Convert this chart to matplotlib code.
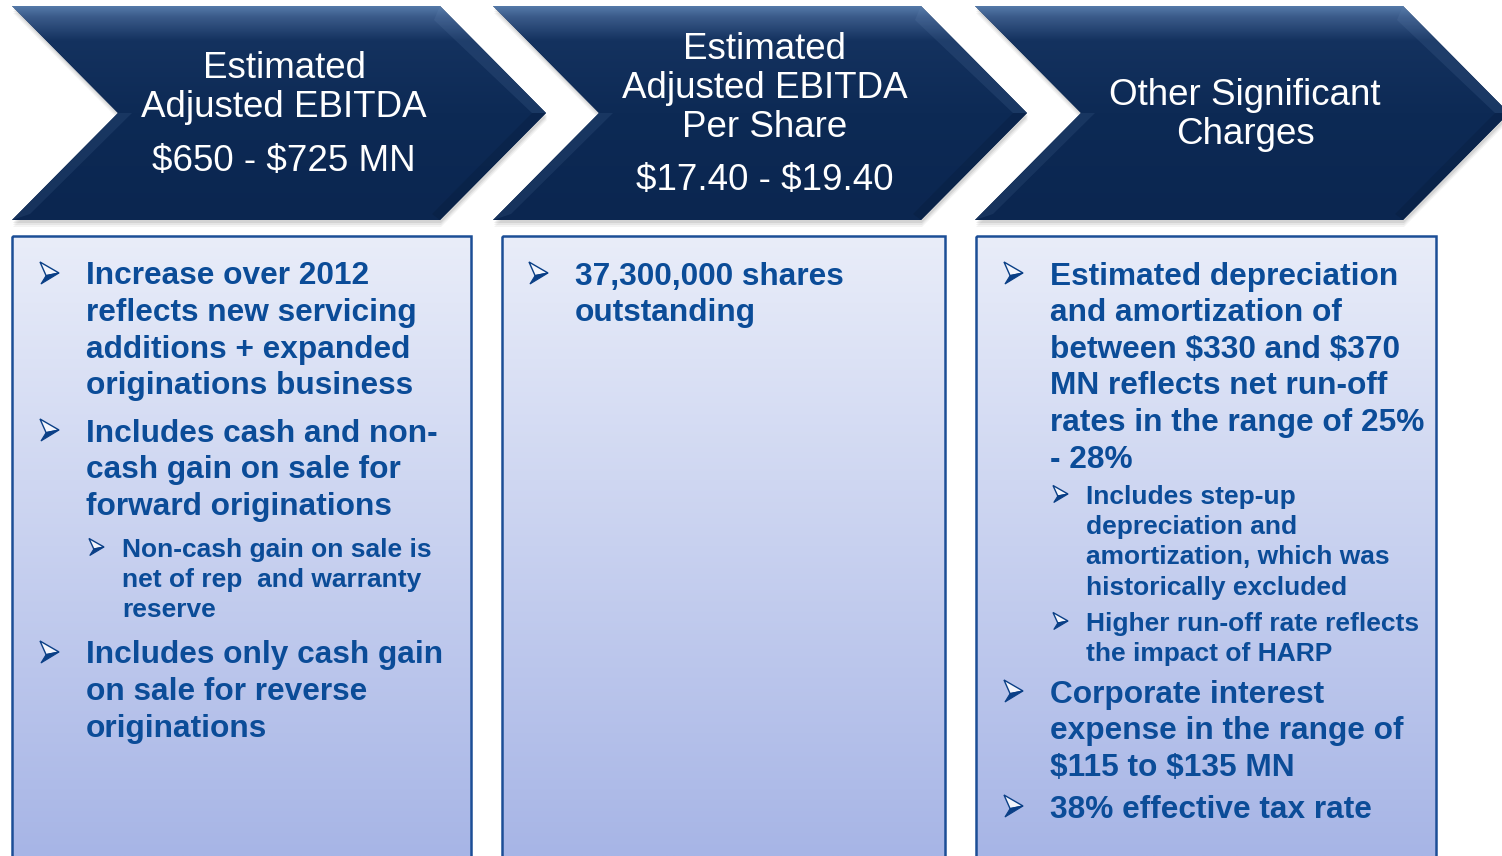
"""
Guidance slide: three navy chevron headers above gradient-filled bullet boxes.
Rendered in pixel coordinates (1502 x 856) on a single frameless axes.
"""
import matplotlib
matplotlib.use("Agg")
import matplotlib.pyplot as plt
import numpy as np
from matplotlib.colors import to_rgb
from matplotlib.patches import Polygon, Rectangle

# ---------------------------------------------------------------------------
# Content
# ---------------------------------------------------------------------------
HEADER_TITLES = [
    ["Estimated", "Adjusted EBITDA"],
    ["Estimated", "Adjusted EBITDA", "Per Share"],
    ["Other Significant", "Charges"],
]
HEADER_VALUES = ["$650 - $725 MN", "$17.40 - $19.40", None]

# (level, lines) per paragraph; level 0 = main bullet, 1 = sub bullet
BOX1_BULLETS = [
    (0, ["Increase over 2012", "reflects new servicing", "additions + expanded",
         "originations business"]),
    (0, ["Includes cash and non-", "cash gain on sale for", "forward originations"]),
    (1, ["Non-cash gain on sale is", "net of rep  and warranty", "reserve"]),
    (0, ["Includes only cash gain", "on sale for reverse", "originations"]),
]
BOX2_BULLETS = [
    (0, ["37,300,000 shares", "outstanding"]),
]
BOX3_BULLETS = [
    (0, ["Estimated depreciation", "and amortization of", "between $330 and $370",
         "MN reflects net run-off", "rates in the range of 25%", "- 28%"]),
    (1, ["Includes step-up", "depreciation and", "amortization, which was",
         "historically excluded"]),
    (1, ["Higher run-off rate reflects", "the impact of HARP"]),
    (0, ["Corporate interest", "expense in the range of", "$115 to $135 MN"]),
    (0, ["38% effective tax rate"]),
]
BOXES = [BOX1_BULLETS, BOX2_BULLETS, BOX3_BULLETS]

# ---------------------------------------------------------------------------
# Layout (pixels, y down)
# ---------------------------------------------------------------------------
W, H = 1502, 856
CHEVRON_X = [12, 493, 975]          # left edge of each chevron
CHEVRON_W = 428                      # flat top width
CHEVRON_TIP = 106                    # depth of point / notch
CHEVRON_TOP, CHEVRON_BOT = 6, 220
HEADER_CX = [284, 765, 1245]
HEADER_TITLE_Y = [[65, 104], [46, 85, 124], [92, 131]]
HEADER_VALUE_Y = [158, 177, None]

BOX_X = [(12, 471), (502, 945), (976, 1436)]
BOX_TOP = 236
BOX_PARA_Y = [[273, 430, 547, 652], [273], [273, 494, 621, 691, 806]]
BOX_TEXT_X = [86, 575, 1050]
LEVEL_INDENT = {0: 0, 1: 36}
LEVEL_ARROW_DX = {0: -46, 1: -33}
LEVEL_ARROW_WH = {0: (19, 22), 1: (15, 17)}
LEVEL_SPACING = {0: 36.6, 1: 30.4}
LEVEL_SIZE = {0: 22.8, 1: 19.0}
LEVEL_BASE_DY = {0: 11.5, 1: 9.5}

NAVY = "#0d2a55"
NAVY_TOP = "#5479a8"
BOX_TOP_COLOR = "#e9edf9"
BOX_BOT_COLOR = "#a7b5e6"
BOX_EDGE = "#1c4e96"
TEXT_BLUE = "#0b4c98"
ARROW_BLUE = "#0a3f86"

plt.rcParams["font.family"] = ["Liberation Sans", "DejaVu Sans"]
plt.rcParams["text.parse_math"] = False


def gradient_fill(ax, patch, x0, x1, y0, y1, stops):
    """Vertical gradient (list of (pos, color)) clipped to patch."""
    n = 256
    pos = np.linspace(0, 1, n)
    ps = [s[0] for s in stops]
    cols = np.array([to_rgb(s[1]) for s in stops])
    img = np.stack([np.interp(pos, ps, cols[:, k]) for k in range(3)], axis=-1)
    img = img[:, None, :]
    im = ax.imshow(img, extent=(x0, x1, y1, y0), origin="upper",
                   aspect="auto", interpolation="bilinear", zorder=patch.get_zorder())
    im.set_clip_path(patch)


def chevron_points(x):
    mid = (CHEVRON_TOP + CHEVRON_BOT) / 2
    return [
        (x, CHEVRON_TOP), (x + CHEVRON_W, CHEVRON_TOP),
        (x + CHEVRON_W + CHEVRON_TIP, mid), (x + CHEVRON_W, CHEVRON_BOT),
        (x, CHEVRON_BOT), (x + CHEVRON_TIP, mid),
    ]


def draw_arrow(ax, x, yc, w, h):
    """Wingdings-style 3D arrowhead bullet: light upper facet, dark lower facet."""
    top = (x, yc - h / 2)
    tip = (x + w, yc)
    bot = (x + 0.05 * w, yc + h / 2)
    notch = (x + 0.32 * w, yc + 0.12 * h)
    ax.add_patch(Polygon([top, tip, notch], closed=True, facecolor="#f3f5fc",
                         edgecolor=ARROW_BLUE, linewidth=1.0, zorder=6))
    ax.add_patch(Polygon([notch, tip, bot], closed=True, facecolor=ARROW_BLUE,
                         edgecolor=ARROW_BLUE, linewidth=0.8, zorder=6))


def main() -> None:
    fig = plt.figure(figsize=(W / 100, H / 100), dpi=100, facecolor="white")
    ax = fig.add_axes([0, 0, 1, 1])
    ax.set_axis_off()

    # --- bullet boxes ---
    for (bx0, bx1) in BOX_X:
        rect = Rectangle((bx0, BOX_TOP), bx1 - bx0, H + 10 - BOX_TOP,
                         facecolor="none", edgecolor="none", zorder=1)
        ax.add_patch(rect)
        gradient_fill(ax, rect, bx0, bx1, BOX_TOP, H,
                      [(0, BOX_TOP_COLOR), (1, BOX_BOT_COLOR)])
        ax.add_patch(Rectangle((bx0, BOX_TOP), bx1 - bx0, H + 10 - BOX_TOP,
                               facecolor="none", edgecolor=BOX_EDGE,
                               linewidth=1.8, zorder=2))

    # --- chevrons ---
    mid = (CHEVRON_TOP + CHEVRON_BOT) / 2
    for x in CHEVRON_X:
        pts = chevron_points(x)
        for k, a in enumerate([0.10, 0.08, 0.06]):
            shadow = Polygon([(px + 1, py + 3 + 2 * k) for px, py in pts],
                             closed=True, facecolor="#404040", edgecolor="none",
                             alpha=a, zorder=3)
            ax.add_patch(shadow)
        poly = Polygon(pts, closed=True, facecolor=NAVY, edgecolor="none", zorder=4)
        ax.add_patch(poly)
        gradient_fill(ax, poly, x, x + CHEVRON_W + CHEVRON_TIP,
                      CHEVRON_TOP, CHEVRON_BOT,
                      [(0, NAVY_TOP), (0.05, "#3a5a89"), (0.16, "#14325f"),
                       (0.5, NAVY), (1, "#0b2650")])
        # soft bevels along the diagonal edges
        xr = x + CHEVRON_W
        ax.add_patch(Polygon([(xr, CHEVRON_TOP), (xr + CHEVRON_TIP, mid),
                              (xr + CHEVRON_TIP - 14, mid), (xr - 6, CHEVRON_TOP + 14)],
                             closed=True, facecolor="#6f8fbb", edgecolor="none",
                             alpha=0.14, zorder=5))
        ax.add_patch(Polygon([(x + CHEVRON_TIP, mid), (x, CHEVRON_BOT),
                              (x + 18, CHEVRON_BOT - 6), (x + CHEVRON_TIP + 14, mid)],
                             closed=True, facecolor="#6f8fbb", edgecolor="none",
                             alpha=0.13, zorder=5))
        ax.add_patch(Polygon([(xr, CHEVRON_BOT), (xr + CHEVRON_TIP, mid),
                              (xr + CHEVRON_TIP - 14, mid), (xr - 8, CHEVRON_BOT - 6)],
                             closed=True, facecolor="#000814", edgecolor="none",
                             alpha=0.12, zorder=5))

    # --- header text ---
    for cx, titles, tys, val, vy in zip(HEADER_CX, HEADER_TITLES, HEADER_TITLE_Y,
                                        HEADER_VALUES, HEADER_VALUE_Y):
        for t, y in zip(titles, tys):
            ax.text(cx, y + 13, t, color="white", fontsize=26.5,
                    ha="center", va="baseline", zorder=7)
        if val is not None:
            ax.text(cx, vy + 13, val, color="white", fontsize=26.5,
                    ha="center", va="baseline", zorder=7)

    # --- bullet text ---
    for bullets, para_y, tx in zip(BOXES, BOX_PARA_Y, BOX_TEXT_X):
        for (level, lines), y0 in zip(bullets, para_y):
            x = tx + LEVEL_INDENT[level]
            aw, ah = LEVEL_ARROW_WH[level]
            draw_arrow(ax, x + LEVEL_ARROW_DX[level], y0, aw, ah)
            for i, line in enumerate(lines):
                y = y0 + i * LEVEL_SPACING[level] + LEVEL_BASE_DY[level]
                ax.text(x, y, line, color=TEXT_BLUE, fontsize=LEVEL_SIZE[level],
                        fontweight="bold", ha="left", va="baseline", zorder=6)

    ax.set_xlim(0, W)
    ax.set_ylim(H, 0)
    fig.savefig("out.png", dpi=100, facecolor="white")


if __name__ == "__main__":
    main()
